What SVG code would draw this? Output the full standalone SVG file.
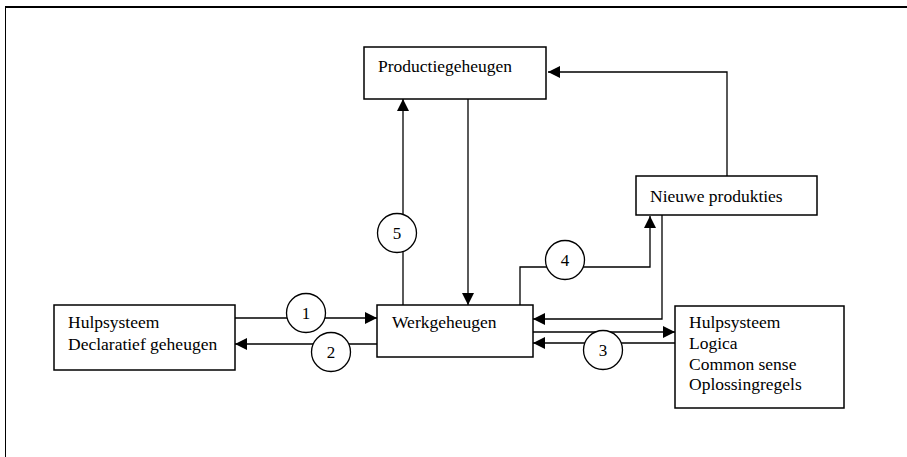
<svg xmlns="http://www.w3.org/2000/svg" width="907" height="457" viewBox="0 0 907 457">
<style>
.box{fill:#fff;stroke:#000;stroke-width:1.5}
.t{font-family:"Liberation Serif","Times New Roman",serif;font-size:17.5px;fill:#000}
.c{fill:#fff;stroke:#000;stroke-width:1.3}
.ln{fill:none;stroke:#000;stroke-width:1.3}
.n{font-family:"Liberation Serif","Times New Roman",serif;font-size:17px;fill:#000;text-anchor:middle}
</style>
<defs>
<marker id="ah" markerWidth="12" markerHeight="12" viewBox="0 0 12 12" refX="12" refY="6" orient="auto" markerUnits="userSpaceOnUse">
<path d="M0,0 L12,6 L0,12 Z" fill="#000"/>
</marker>
</defs>
<rect width="907" height="457" fill="#fff"/>
<g id="frame">
<line x1="5" y1="7" x2="907" y2="7" stroke="#000" stroke-width="2"/>
<line x1="5.5" y1="7" x2="5.5" y2="457" stroke="#000" stroke-width="1"/>
</g>
<g id="connectors">
<path class="ln" d="M727,176 V72 H548" marker-end="url(#ah)"/>
<path class="ln" d="M403,305 V99" marker-end="url(#ah)"/>
<path class="ln" d="M468,99 V305" marker-end="url(#ah)"/>
<path class="ln" d="M520,305 V267 H650 V216" marker-end="url(#ah)"/>
<path class="ln" d="M662,215 V319 H533" marker-end="url(#ah)"/>
<path class="ln" d="M235,318 H377" marker-end="url(#ah)"/>
<path class="ln" d="M377,344 H235" marker-end="url(#ah)"/>
<path class="ln" d="M533,332 H675" marker-end="url(#ah)"/>
<path class="ln" d="M675,343 H533" marker-end="url(#ah)"/>
<circle class="c" cx="306" cy="313" r="19.5"/>
<text class="n" x="306" y="319">1</text>
<circle class="c" cx="331" cy="352" r="19.5"/>
<text class="n" x="331" y="358">2</text>
<circle class="c" cx="603" cy="350" r="19.5"/>
<text class="n" x="603" y="356">3</text>
<circle class="c" cx="565" cy="260" r="19.5"/>
<text class="n" x="565" y="266">4</text>
<circle class="c" cx="397" cy="233" r="19.5"/>
<text class="n" x="397" y="239">5</text>
</g>
<g id="productiegeheugen">
<rect class="box" x="364" y="47" width="182" height="52"/>
<text class="t" x="378" y="72">Productiegeheugen</text>
</g>
<g id="nieuwe-produkties">
<rect class="box" x="636" y="176" width="181" height="39"/>
<text class="t" x="650" y="202">Nieuwe produkties</text>
</g>
<g id="werkgeheugen">
<rect class="box" x="377" y="305" width="156" height="52"/>
<text class="t" x="392" y="328">Werkgeheugen</text>
</g>
<g id="hulpsysteem-declaratief">
<rect class="box" x="54" y="305" width="181" height="65"/>
<text class="t" x="68" y="328">Hulpsysteem</text>
<text class="t" x="68" y="350">Declaratief geheugen</text>
</g>
<g id="hulpsysteem-logica">
<rect class="box" x="675" y="306" width="169" height="102"/>
<text class="t" x="689" y="328">Hulpsysteem</text>
<text class="t" x="689" y="349">Logica</text>
<text class="t" x="689" y="370">Common sense</text>
<text class="t" x="689" y="390">Oplossingregels</text>
</g>
</svg>
